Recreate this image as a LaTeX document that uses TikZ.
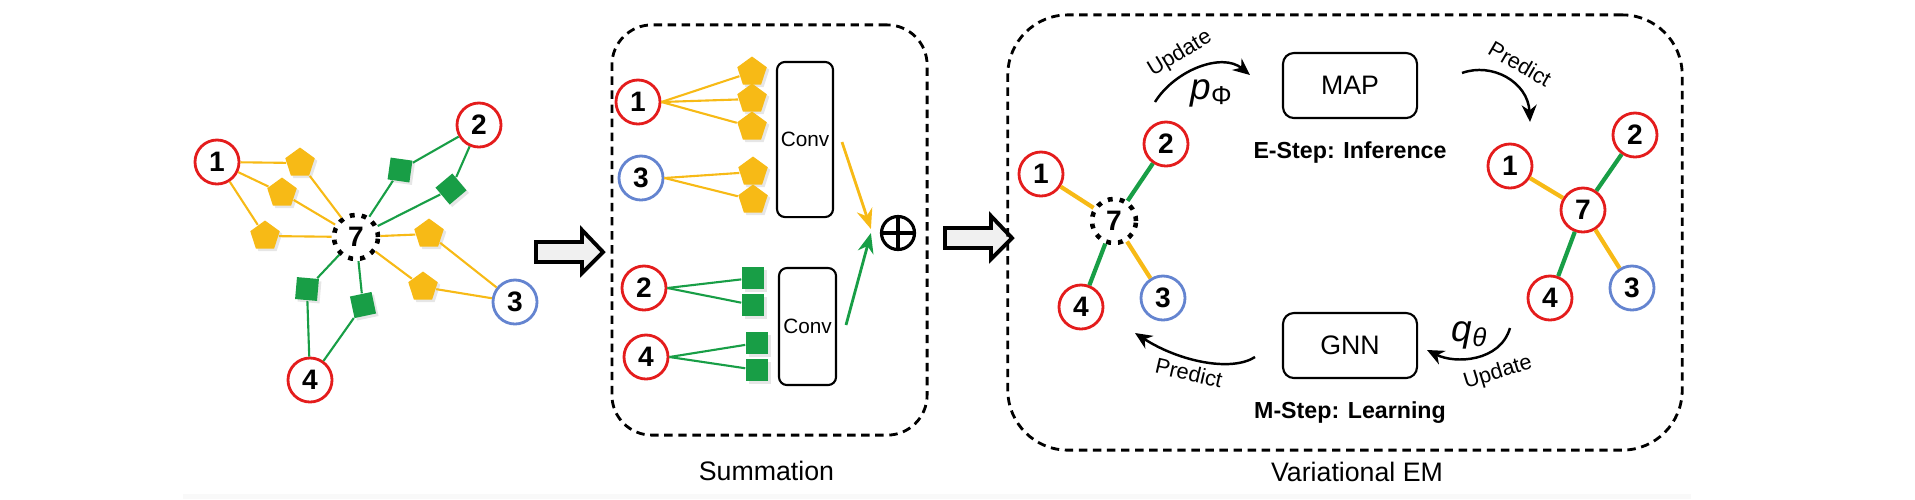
\documentclass[tikz,border=0pt]{standalone}
\usepackage{fontspec}
\setmainfont{Liberation Sans}
\usetikzlibrary{arrows.meta,positioning,calc,shapes.geometric,shadows}

\definecolor{entred}{RGB}{228,28,28}
\definecolor{entblue}{RGB}{100,132,208}
\definecolor{relyellow}{RGB}{247,186,22}
\definecolor{relgreen}{RGB}{24,158,70}

\newcommand{\blockarrow}[1]{%
  \draw[line width=1.1pt, fill=gray!12, line join=miter] (#1) ++(0,-10) -- ++(46,0) -- ++(0,-12) -- ++(21,22) -- ++(-21,21) -- ++(0,-11) -- ++(-46,0) -- cycle;}

\begin{document}
\begin{tikzpicture}[x=0.01cm, y=-0.01cm,
    ent/.style={circle, draw=entred, line width=0.8pt, fill=white, minimum size=4.4mm, inner sep=0pt, font=\fontsize{8}{9}\selectfont\bfseries},
    entb/.style={ent, draw=entblue},
    query/.style={ent, draw=black, line width=1.3pt, dash pattern=on 1.4pt off 2pt},
    pent/.style={regular polygon, regular polygon sides=5, fill=relyellow, minimum size=3.1mm, inner sep=0pt, drop shadow={opacity=0.2, shadow xshift=0.25mm, shadow yshift=-0.25mm}},
    sq/.style={rectangle, fill=relgreen, minimum size=2.2mm, inner sep=0pt, drop shadow={opacity=0.2, shadow xshift=0.25mm, shadow yshift=-0.25mm}},
    yline/.style={draw=relyellow, line width=0.6pt},
    gline/.style={draw=relgreen, line width=0.6pt},
    ybold/.style={draw=relyellow, line width=1.2pt},
    gbold/.style={draw=relgreen, line width=1.2pt},
    panel/.style={draw, line width=0.8pt, dash pattern=on 2.4pt off 1.6pt},
    conv/.style={draw, line width=0.6pt, rounded corners=0.8mm, inner sep=0pt, font=\fontsize{5.9}{7}\selectfont},
    algo/.style={draw, line width=0.6pt, rounded corners=1.1mm, minimum width=13.4mm, minimum height=6.5mm, font=\fontsize{7.6}{9}\selectfont},
    steplbl/.style={font=\fontsize{6.6}{8}\selectfont\bfseries, inner sep=0pt},
    caplbl/.style={font=\fontsize{7.6}{9}\selectfont, inner sep=0pt},
    cyc/.style={line width=0.7pt, -{Stealth[length=1.7mm, width=1.5mm]}},
    cyclbl/.style={font=\fontsize{6.2}{7}\selectfont, inner sep=0pt},
    param/.style={font=\fontsize{10.5}{12}\selectfont, inner sep=0pt},
    agg/.style={line width=0.8pt, -{Stealth[length=2mm, width=1.6mm]}}
  ]
  \useasboundingbox (0,0) rectangle (1915,499);
  \fill[gray!5] (183,494) rectangle (1691,499);

  % Input graph around the query entity
  \node[query] (g7) at (356,237) {7};
  \node[ent] (g1) at (217,162) {1};
  \node[ent] (g2) at (479,125) {2};
  \node[entb] (g3) at (515,302) {3};
  \node[ent] (g4) at (310,380) {4};
  \node[pent] (ga) at (300,163) {};
  \node[pent] (gb) at (282,193) {};
  \node[pent] (gc) at (265,236) {};
  \node[pent] (gd) at (429,234) {};
  \node[pent] (ge) at (423,287) {};
  \node[sq, rotate=-8] (gqa) at (400,170) {};
  \node[sq, rotate=40] (gqb) at (451,189) {};
  \node[sq, rotate=-5] (gqc) at (307,289) {};
  \node[sq, rotate=12] (gqd) at (363,305) {};
  \foreach \p in {ga,gb,gc} \draw[yline] (g1) -- (\p) (\p) -- (g7);
  \foreach \p in {gd,ge} \draw[yline] (g3) -- (\p) (\p) -- (g7);
  \foreach \p in {gqa,gqb} \draw[gline] (g2) -- (\p) (\p) -- (g7);
  \foreach \p in {gqc,gqd} \draw[gline] (g4) -- (\p) (\p) -- (g7);

  \blockarrow{536,252}

  % Summation
  \node[panel, rounded corners=4mm, minimum width=3.15cm, minimum height=4.1cm] (sumbox) at (769.5,230) {};
  \node[caplbl, below=2.4mm of sumbox, xshift=-0.3mm] (sumcap) {Summation};
  \node[ent] (s1) at (638,102) {1};
  \node[entb] (s3) at (641,178) {3};
  \node[ent] (s2) at (644,288) {2};
  \node[ent] (s4) at (646,357) {4};
  \node[pent] (sa) at (752,72) {};
  \node[pent] (sb) at (752,99) {};
  \node[pent] (sc) at (752,127) {};
  \node[pent] (sd) at (753,172) {};
  \node[pent] (se) at (753,200) {};
  \node[sq] (sqa) at (753,278) {};
  \node[sq] (sqb) at (753,305) {};
  \node[sq] (sqc) at (757,343) {};
  \node[sq] (sqd) at (757,370) {};
  \foreach \p in {sa,sb,sc} \draw[yline] (s1.east) -- (\p);
  \foreach \p in {sd,se} \draw[yline] (s3.east) -- (\p);
  \foreach \p in {sqa,sqb} \draw[gline] (s2.east) -- (\p);
  \foreach \p in {sqc,sqd} \draw[gline] (s4.east) -- (\p);
  \node[conv, minimum width=5.6mm, minimum height=15.5mm] (conv1) at (805,139.5) {Conv};
  \node[conv, minimum width=5.7mm, minimum height=11.7mm] (conv2) at (807.5,326.5) {Conv};
  \node[circle, draw, line width=0.9pt, minimum size=3.3mm, inner sep=0pt,
        path picture={\draw[line width=0.9pt] (path picture bounding box.north) -- (path picture bounding box.south)
                      (path picture bounding box.west) -- (path picture bounding box.east);}] (sum) at (898,233) {};
  \coordinate (yin) at (842,142);
  \coordinate (gin) at (846,325);
  \draw[agg, relyellow] (yin) -- ($(sum.west)+(-9,-4)$);
  \draw[agg, relgreen] (gin) -- ($(sum.west)+(-9,0)$);

  \blockarrow{945,238}

  % Variational EM
  \node[panel, rounded corners=6mm, minimum width=6.74cm, minimum height=4.35cm] (embox) at (1345,232.5) {};
  \node[caplbl, below=1mm of embox, xshift=1.2mm] (emcap) {Variational EM};
  \node[query] (a7) at (1114,221) {7};
  \node[ent] (a1) at (1041,174) {1};
  \node[ent] (a2) at (1166,144) {2};
  \node[entb] (a3) at (1163,298) {3};
  \node[ent] (a4) at (1081,307) {4};
  \draw[ybold] (a1) -- (a7);
  \draw[gbold] (a2) -- (a7);
  \draw[ybold] (a3) -- (a7);
  \draw[gbold] (a4) -- (a7);
  \node[ent] (b7) at (1583,210) {7};
  \node[ent] (b1) at (1510,166) {1};
  \node[ent] (b2) at (1635,135) {2};
  \node[entb] (b3) at (1632,288) {3};
  \node[ent] (b4) at (1550,298) {4};
  \draw[ybold] (b1) -- (b7);
  \draw[gbold] (b2) -- (b7);
  \draw[ybold] (b3) -- (b7);
  \draw[gbold] (b4) -- (b7);

  \node[algo] (map) at (1350,85.5) {MAP};
  \node[steplbl, below=2.2mm of map] (estep) {E-Step: Inference};
  \node[algo] (gnn) at (1350,345.5) {GNN};
  \node[steplbl, below=2.2mm of gnn] (mstep) {M-Step: Learning};

  % EM loop
  \coordinate (upa) at (1155,102);
  \coordinate (upb) at (1250,75);
  \draw[cyc] (upa) .. controls (1175,70) and (1222,52) .. (upb);
  \node[cyclbl, rotate=31] (uplbl) at (1180,54) {Update};
  \node[param] (pphi) at (1212,93) {\textit{p}\textsubscript{Φ}};
  \coordinate (pra) at (1462,73);
  \coordinate (prb) at (1530,122);
  \draw[cyc] (pra) .. controls (1492,62) and (1528,82) .. (prb);
  \node[cyclbl, rotate=-30] (prlbl) at (1520,64) {Predict};
  \coordinate (uqa) at (1510,328);
  \coordinate (uqb) at (1427,350);
  \draw[cyc] (uqa) .. controls (1500,362) and (1455,364) .. (uqb);
  \node[param] (qtheta) at (1470,335) {\textit{q}\textsubscript{\textit{θ}}};
  \node[cyclbl, rotate=17] (uqlbl) at (1498,373) {Update};
  \coordinate (pga) at (1255,357);
  \coordinate (pgb) at (1135,333);
  \draw[cyc] (pga) .. controls (1232,372) and (1180,362) .. (pgb);
  \node[cyclbl, rotate=-13] (pglbl) at (1189,373) {Predict};
\end{tikzpicture}
\end{document}
